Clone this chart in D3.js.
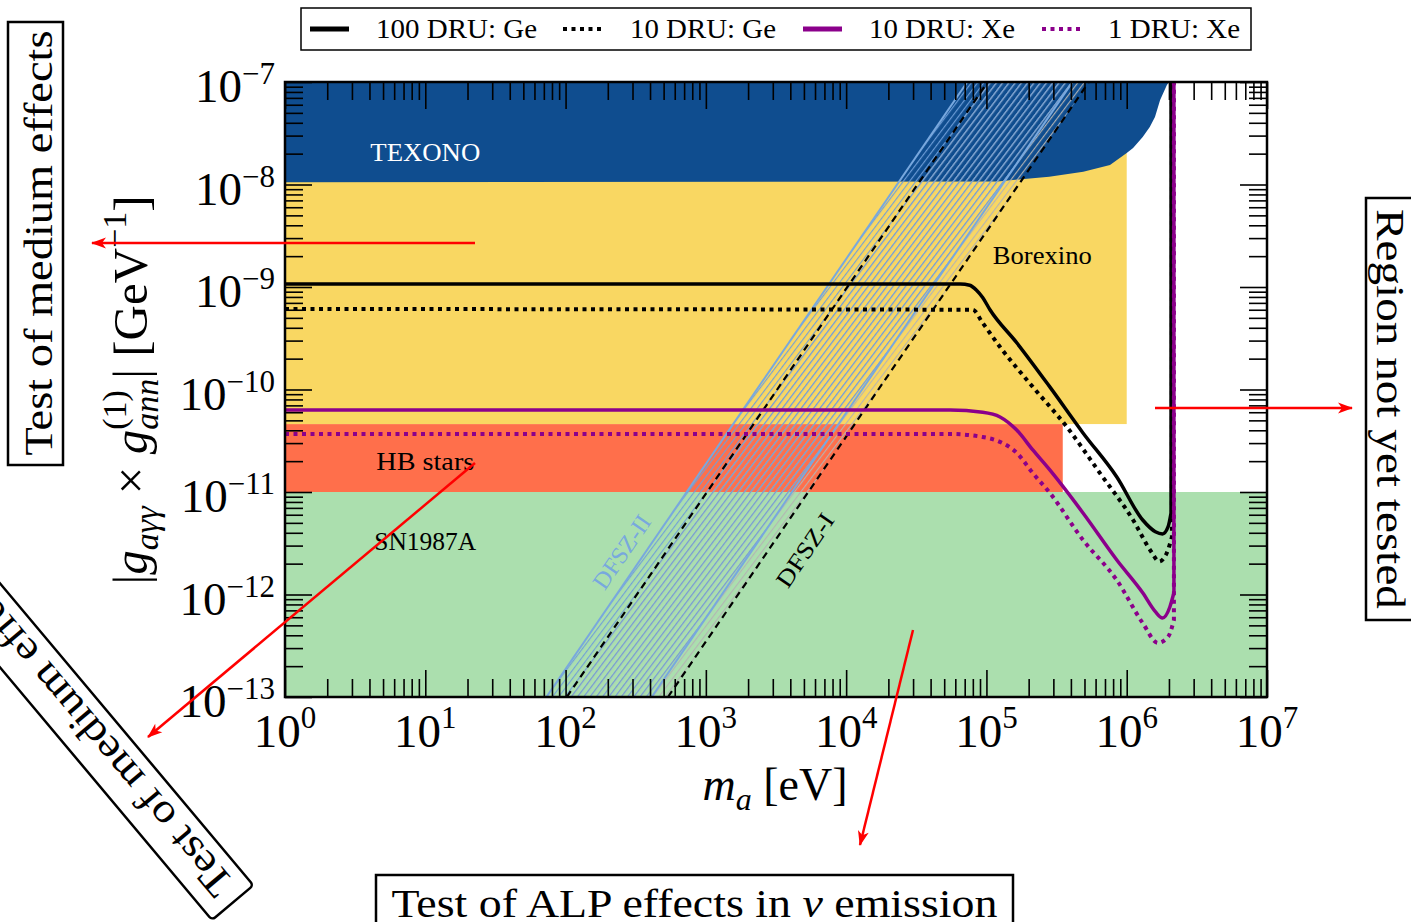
<!DOCTYPE html>
<html>
<head>
<meta charset="utf-8">
<script src="https://cdn.jsdelivr.net/npm/d3@7"></script>
<style>
  body { margin: 0; background: #fff; }
  svg { display: block; font-family: 'Liberation Serif', 'Times New Roman', serif; }
</style>
</head>
<body>
<svg id="chart" width="1411" height="922"></svg>
<script>
// axion mass [eV] vs |g_agg x g_ann| [GeV^-1]
const massDomain = [1, 1e7]
const couplingDomain = [1e-13, 1e-7]
const massTickExp = [0, 1, 2, 3, 4, 5, 6, 7]
const couplingTickExp = [-13, -12, -11, -10, -9, -8, -7]

// excluded regions
const sn1987aMass = [1, 1e7]
const sn1987aCoupling = [1e-13, 1e-11]
const hbMass = [1, 3.5e5]
const hbCoupling = [1e-11, 4.6e-11]
const borexinoMass = [1, 1e6]
const borexinoCoupling = [4.6e-11, 1e-7]
const texonoMass = [1, 1.2e5, 2.8e5, 4.9e5, 7.6e5, 1.0e6, 1.11e6, 1.3e6, 1.46e6, 1.59e6, 1.73e6, 1.93e6, 2.0e6]
const texonoCoupling = [1.05e-8, 1.07e-8, 1.19e-8, 1.33e-8, 1.55e-8, 2.03e-8, 2.27e-8, 2.9e-8, 3.64e-8, 4.56e-8, 6.67e-8, 9.3e-8, 1e-7]

// DFSZ bands: mass where each edge crosses the bottom / top coupling
const dfszCoupling = [1e-13, 1e-7]
const dfsz1LeftMass = [102, 1.02e5]
const dfsz1RightMass = [537, 5.37e5]
const dfsz2LeftMass = [73, 7.3e4]
const dfsz2RightMass = [411, 4.11e5]

// projected sensitivities
const legendLabels = ['100 DRU: Ge', '10 DRU: Ge', '10 DRU: Xe', '1 DRU: Xe']
const ge100Mass = [1, 6.5e4, 7.6e4, 8.5e4, 9.4e4, 1.06e5, 1.65e5, 2.83e5, 4.88e5, 8.5e5, 1.3e6, 1.6e6, 1.8e6, 1.97e6, 2.07e6, 2.07e6]
const ge100Coupling = [1.07e-9, 1.07e-9, 1.04e-9, 9.3e-10, 7.9e-10, 6.0e-10, 2.84e-10, 1.06e-10, 3.77e-11, 1.4e-11, 5.33e-12, 4.1e-12, 3.9e-12, 4.56e-12, 6.24e-12, 1e-7]
const ge10Mass = [1, 8.0e4, 9.4e4, 1.25e5, 2.14e5, 3.75e5, 6.44e5, 1.11e6, 1.5e6, 1.7e6, 1.93e6, 2.1e6, 2.1e6]
const ge10Coupling = [6.1e-10, 6.0e-10, 4.46e-10, 2.6e-10, 1.06e-10, 4.3e-11, 1.53e-11, 5.33e-12, 2.6e-12, 2.1e-12, 2.54e-12, 3.64e-12, 1e-7]
const xe10Mass = [1, 5.5e4, 9.4e4, 1.25e5, 1.65e5, 2.14e5, 2.83e5, 4.88e5, 8.5e5, 1.3e6, 1.6e6, 1.8e6, 2.03e6, 2.17e6, 2.17e6]
const xe10Coupling = [6.3e-11, 6.3e-11, 6.0e-11, 5.4e-11, 4.0e-11, 2.57e-11, 1.64e-11, 6.24e-12, 2.17e-12, 1.04e-12, 6.8e-13, 5.9e-13, 7.55e-13, 1.04e-12, 1e-7]
const xe1Mass = [1, 5.5e4, 9.4e4, 1.25e5, 1.65e5, 2.14e5, 2.83e5, 4.88e5, 8.5e5, 1.3e6, 1.67e6, 1.97e6, 2.17e6, 2.17e6]
const xe1Coupling = [3.68e-11, 3.68e-11, 3.44e-11, 3.08e-11, 2.4e-11, 1.53e-11, 9.8e-12, 3.4e-12, 1.38e-12, 5.27e-13, 3.37e-13, 3.85e-13, 5.64e-13, 1e-7]

const purple = '#8b008b'
const series = [
  { label: legendLabels[0], mass: ge100Mass, coupling: ge100Coupling, color: '#000', width: 3.5, dash: null },
  { label: legendLabels[1], mass: ge10Mass, coupling: ge10Coupling, color: '#000', width: 4, dash: '4,4.5' },
  { label: legendLabels[2], mass: xe10Mass, coupling: xe10Coupling, color: purple, width: 3.5, dash: null },
  { label: legendLabels[3], mass: xe1Mass, coupling: xe1Coupling, color: purple, width: 4, dash: '4,4.5' }
]

const plot = { left: 285, right: 1267, top: 82, bottom: 697 }

const svg = d3.select('#chart')
const defs = svg.append('defs')

const x = d3.scaleLog().domain(massDomain).range([plot.left, plot.right])
const y = d3.scaleLog().domain(couplingDomain).range([plot.bottom, plot.top])

defs.append('clipPath').attr('id', 'plot-clip')
  .append('rect')
  .attr('x', plot.left).attr('y', plot.top)
  .attr('width', plot.right - plot.left).attr('height', plot.bottom - plot.top)

function hatch (id, color) {
  const p = defs.append('pattern')
    .attr('id', id)
    .attr('patternUnits', 'userSpaceOnUse')
    .attr('width', 5).attr('height', 10)
    .attr('patternTransform', 'rotate(37)')
  p.append('line')
    .attr('x1', 0.6).attr('y1', 0).attr('x2', 0.6).attr('y2', 10)
    .attr('stroke', color).attr('stroke-width', 1.1)
}
hatch('hatch-blue', '#6f9fd8')
hatch('hatch-gray', '#b4b4b4')

defs.append('marker')
  .attr('id', 'arrow')
  .attr('viewBox', '-15 -7 17 14')
  .attr('refX', 0).attr('refY', 0)
  .attr('markerWidth', 17).attr('markerHeight', 14)
  .attr('markerUnits', 'userSpaceOnUse')
  .attr('orient', 'auto')
  .append('path')
  .attr('d', 'M1,0 L-14,-5.5 L-10,0 L-14,5.5 Z')
  .attr('fill', '#ff0000')

const chartArea = svg.append('g').attr('clip-path', 'url(#plot-clip)')

// regions
function rect (mass, coupling, color) {
  chartArea.append('rect')
    .attr('x', x(mass[0]))
    .attr('y', y(coupling[1]))
    .attr('width', x(mass[1]) - x(mass[0]))
    .attr('height', y(coupling[0]) - y(coupling[1]))
    .attr('fill', color)
}
rect(sn1987aMass, sn1987aCoupling, '#abdfae')
rect(hbMass, hbCoupling, '#ff6f4b')
rect(borexinoMass, borexinoCoupling, '#f9d762')

const texonoPts = [[massDomain[0], couplingDomain[1]]]
  .concat(texonoMass.map((m, i) => [m, texonoCoupling[i]]))
chartArea.append('path')
  .attr('d', d3.line().x(d => x(d[0])).y(d => y(d[1]))(texonoPts) + 'Z')
  .attr('fill', '#0f4d8f')

// DFSZ bands
function band (leftMass, rightMass, fill) {
  const pts = [
    [leftMass[0], dfszCoupling[0]], [leftMass[1], dfszCoupling[1]],
    [rightMass[1], dfszCoupling[1]], [rightMass[0], dfszCoupling[0]]
  ]
  chartArea.append('path')
    .attr('d', d3.line().x(d => x(d[0])).y(d => y(d[1]))(pts) + 'Z')
    .attr('fill', fill)
}
function edge (mass, color, width, dash) {
  chartArea.append('line')
    .attr('x1', x(mass[0])).attr('y1', y(dfszCoupling[0]))
    .attr('x2', x(mass[1])).attr('y2', y(dfszCoupling[1]))
    .attr('stroke', color).attr('stroke-width', width)
    .attr('stroke-dasharray', dash)
}
band(dfsz1LeftMass, dfsz1RightMass, 'url(#hatch-gray)')
band(dfsz2LeftMass, dfsz2RightMass, 'url(#hatch-blue)')
edge(dfsz2LeftMass, '#78a8de', 2)
edge(dfsz2RightMass, '#78a8de', 2)
edge(dfsz1LeftMass, '#000', 2.2, '7,5')
edge(dfsz1RightMass, '#000', 2.2, '7,5')

// region labels
function label (text, m, g, size, len, color) {
  chartArea.append('text')
    .attr('x', x(m)).attr('y', y(g))
    .attr('text-anchor', 'middle')
    .attr('textLength', len).attr('lengthAdjust', 'spacingAndGlyphs')
    .style('font-size', size + 'px')
    .attr('fill', color || '#000')
    .text(text)
}
label('TEXONO', 10, 1.7e-8, 25, 110, '#fff')
label('Borexino', 2.5e5, 1.67e-9, 25, 99)
label('HB stars', 10, 1.64e-11, 25, 98)
label('SN1987A', 10, 2.72e-12, 25, 102)

function rotLabel (text, m, g, color) {
  chartArea.append('text')
    .attr('transform', `translate(${x(m)},${y(g)}) rotate(-55.6)`)
    .attr('text-anchor', 'middle')
    .attr('dy', 8)
    .attr('textLength', 84).attr('lengthAdjust', 'spacingAndGlyphs')
    .style('font-size', '24px')
    .attr('fill', color)
    .text(text)
}
rotLabel('DFSZ-II', 252, 2.6e-12, '#78a8de')
rotLabel('DFSZ-I', 5.1e3, 2.7e-12, '#000')

// curves: smooth along mass, then the straight rise at the kinematic edge
const smooth = d3.line()
  .x(d => x(d[0]))
  .y(d => y(d[1]))
  .curve(d3.curveMonotoneX)

series.forEach(s => {
  const pts = s.mass.map((m, i) => [m, s.coupling[i]])
  const last = pts.pop()
  chartArea.append('path')
    .attr('d', smooth(pts) + `L${x(last[0])},${y(last[1])}`)
    .attr('fill', 'none')
    .attr('stroke', s.color)
    .attr('stroke-width', s.width)
    .attr('stroke-dasharray', s.dash)
    .attr('stroke-linejoin', 'round')
})

// axes with inward ticks
const isDecade = v => Math.abs(Math.log10(v) - Math.round(Math.log10(v))) < 1e-6
const majorX = massTickExp.map(e => 10 ** e)
const majorY = couplingTickExp.map(e => 10 ** e)
const minorX = x.ticks().filter(v => !isDecade(v))
const minorY = y.ticks().filter(v => !isDecade(v))

const axes = svg.append('g')
function drawAxis (axisFn, scale, pos, values, size) {
  const g = axes.append('g')
    .attr('transform', pos)
    .call(axisFn(scale).tickValues(values).tickSize(-size).tickSizeOuter(0).tickFormat(''))
  g.select('.domain').remove()
  g.selectAll('line').attr('stroke', '#000').attr('stroke-width', 1.6)
}
;[[majorX, 27], [minorX, 18]].forEach(([vals, len]) => {
  drawAxis(d3.axisBottom, x, `translate(0,${plot.bottom})`, vals, len)
  drawAxis(d3.axisTop, x, `translate(0,${plot.top})`, vals, len)
})
;[[majorY, 27], [minorY, 18]].forEach(([vals, len]) => {
  drawAxis(d3.axisLeft, y, `translate(${plot.left},0)`, vals, len)
  drawAxis(d3.axisRight, y, `translate(${plot.right},0)`, vals, len)
})

svg.append('rect')
  .attr('x', plot.left).attr('y', plot.top)
  .attr('width', plot.right - plot.left).attr('height', plot.bottom - plot.top)
  .attr('fill', 'none').attr('stroke', '#000').attr('stroke-width', 2.5)

const fmtExp = e => (e < 0 ? '\u2212' + (-e) : String(e))

majorX.forEach((v, i) => {
  const t = axes.append('text')
    .attr('x', x(v)).attr('y', plot.bottom + 50)
    .attr('text-anchor', 'middle')
    .style('font-size', '47px')
  t.append('tspan').text('10')
  t.append('tspan').attr('dy', -19).style('font-size', '31px').text(fmtExp(massTickExp[i]))
})
majorY.forEach((v, i) => {
  const t = axes.append('text')
    .attr('x', 275).attr('y', y(v) + 20)
    .attr('text-anchor', 'end')
    .style('font-size', '47px')
  t.append('tspan').text('10')
  t.append('tspan').attr('dy', -18).style('font-size', '31px').text(fmtExp(couplingTickExp[i]))
})

// text with sub/superscripts
function richText (parent, parts, size) {
  const text = parent.append('text').style('font-size', size + 'px')
  let shift = 0
  let prev = null
  parts.forEach(p => {
    const ts = text.append('tspan').text(p.t)
    const s = p.dy || 0
    ts.attr('dy', s - shift)
    shift = s
    if (p.small) ts.style('font-size', Math.round(size * 0.7) + 'px')
    if (p.it) ts.style('font-style', 'italic')
    if (p.back && prev) ts.attr('dx', -prev.node().getComputedTextLength())
    prev = ts
  })
  return text
}

richText(svg.append('g').attr('transform', 'translate(775,800)'), [
  { t: 'm', it: true },
  { t: 'a', it: true, small: true, dy: 10 },
  { t: ' [eV]' }
], 46).attr('text-anchor', 'middle')

richText(svg.append('g').attr('transform', 'translate(147,390) rotate(-90)'), [
  { t: '|' },
  { t: 'g', it: true },
  { t: 'a\u03b3\u03b3', it: true, small: true, dy: 11 },
  { t: ' \u00d7 ' },
  { t: 'g', it: true },
  { t: '(1)', small: true, dy: -21 },
  { t: 'ann', it: true, small: true, dy: 11, back: true },
  { t: '| [GeV' },
  { t: '\u22121', small: true, dy: -21 },
  { t: ']' }
], 49).attr('text-anchor', 'middle')

// legend
const legend = svg.append('g')
legend.append('rect')
  .attr('x', 301).attr('y', 8).attr('width', 950).attr('height', 42)
  .attr('fill', '#fff').attr('stroke', '#000').attr('stroke-width', 1.5)
const legendSampleX = [310, 563, 803, 1042]
const legendTextX = [376, 630, 869, 1108]
const legendTextLen = [161, 146, 146, 132]
series.forEach((s, i) => {
  legend.append('line')
    .attr('x1', legendSampleX[i]).attr('x2', legendSampleX[i] + 39)
    .attr('y1', 29).attr('y2', 29)
    .attr('stroke', s.color)
    .attr('stroke-width', s.dash ? 4 : 5)
    .attr('stroke-dasharray', s.dash)
  legend.append('text')
    .attr('x', legendTextX[i]).attr('y', 38)
    .attr('textLength', legendTextLen[i]).attr('lengthAdjust', 'spacingAndGlyphs')
    .style('font-size', '27px')
    .text(s.label)
})

// annotation boxes
function boxedText (transform, box, text, tx, ty, len, anchor, rx) {
  const g = svg.append('g').attr('transform', transform)
  g.append('rect')
    .attr('x', box[0]).attr('y', box[1]).attr('width', box[2]).attr('height', box[3])
    .attr('rx', rx || 0)
    .attr('fill', '#fff').attr('stroke', '#000').attr('stroke-width', 2.5)
  return g.append('text')
    .attr('x', tx).attr('y', ty)
    .attr('text-anchor', anchor)
    .attr('textLength', len).attr('lengthAdjust', 'spacingAndGlyphs')
    .style('font-size', '41px')
    .text(text)
}
boxedText('translate(52,243) rotate(-90)', [-222, -44, 443, 55], 'Test of medium effects', 0, 0, 425, 'middle')
boxedText('translate(1377,409) rotate(90)', [-211, -44, 422, 55], 'Region not yet tested', 0, 0, 400, 'middle')
boxedText('translate(212,920) rotate(230)', [0, 0, 480, 54], 'Test of medium effects', 14, 42, 425, 'start', 4)
const bottomText = boxedText('translate(0,0)', [376, 875, 637, 70], '', 694.5, 917, 606, 'middle')
bottomText.append('tspan').text('Test of ALP effects in ')
bottomText.append('tspan').style('font-style', 'italic').text('\u03bd')
bottomText.append('tspan').text(' emission')

// arrows
const arrows = [
  [475, 243, 92, 243],
  [1155, 408, 1352, 408],
  [475, 463, 148, 737],
  [913, 630, 860, 845]
]
arrows.forEach(a => {
  svg.append('line')
    .attr('x1', a[0]).attr('y1', a[1]).attr('x2', a[2]).attr('y2', a[3])
    .attr('stroke', '#ff0000').attr('stroke-width', 2.5)
    .attr('marker-end', 'url(#arrow)')
})
</script>
</body>
</html>
